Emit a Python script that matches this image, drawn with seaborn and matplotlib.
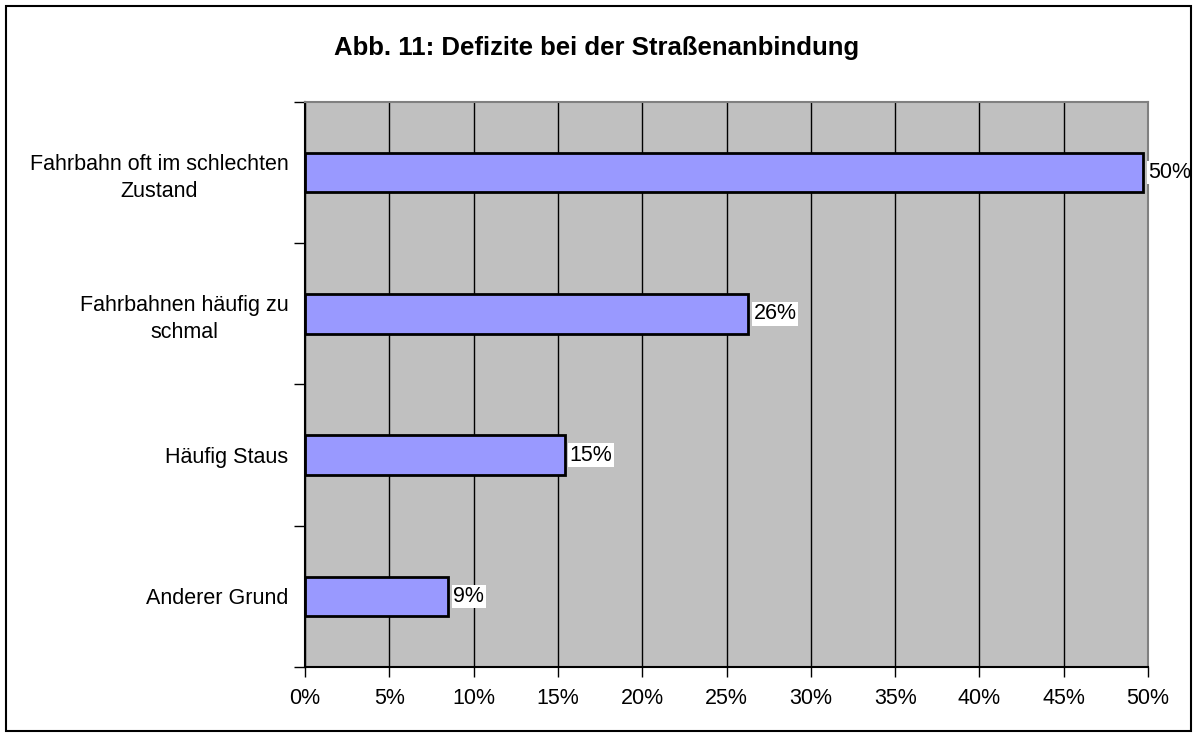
import matplotlib
matplotlib.use("Agg")
from matplotlib import pyplot as plt
from matplotlib.patches import Rectangle
from matplotlib.ticker import MultipleLocator, FuncFormatter
import seaborn as sns
import pandas as pd

categories = ["Fahrbahn oft im schlechten\nZustand",
              "Fahrbahnen häufig zu\nschmal",
              "Häufig Staus",
              "Anderer Grund"]
values = [49.7, 26.3, 15.4, 8.5]
value_labels = ["50%", "26%", "15%", "9%"]
title = "Abb. 11: Defizite bei der Straßenanbindung"

df = pd.DataFrame({"grund": categories, "anteil": values})

sns.set_style("white")
plt.rcParams['font.family'] = ['Liberation Sans', 'DejaVu Sans']
plt.rcParams['text.color'] = 'black'
plt.rcParams['xtick.color'] = 'black'
plt.rcParams['ytick.color'] = 'black'
plt.rcParams['axes.labelcolor'] = 'black'

fig = plt.figure(figsize=(11.93, 7.33), dpi=100)
ax = fig.add_axes([0.2557, 0.09, 0.9623 - 0.2557, 0.861 - 0.09])
ax.set_facecolor("#C0C0C0")

sns.barplot(data=df, x="anteil", y="grund", orient="h", color="#9999FF",
            saturation=1, width=0.28, edgecolor="black", linewidth=2, ax=ax, zorder=3)

ax.set_xlim(0, 50)
ax.set_ylim(len(categories) - 0.5, -0.5)
ax.xaxis.set_major_locator(MultipleLocator(5))
ax.xaxis.set_major_formatter(FuncFormatter(lambda v, p: "%d%%" % v))
ax.grid(axis="x", color="black", linewidth=1, zorder=1)
ax.set_axisbelow(True)

# ticks between categories like in Excel
ax.set_yticks([i - 0.5 for i in range(len(categories) + 1)], minor=True)
ax.tick_params(axis="y", which="major", length=0, pad=12, labelsize=15.5)
ax.tick_params(axis="y", which="minor", left=True, length=8, width=1, direction="out", color="black")
ax.tick_params(axis="x", which="major", length=7, width=1, direction="out", color="black",
               labelsize=15.5, pad=8, bottom=True)
for lab in ax.get_yticklabels():
    lab.set_multialignment("center")
    lab.set_linespacing(1.35)

ax.set_xlabel("")
ax.set_ylabel("")

for s in ["top", "right"]:
    ax.spines[s].set_color("#808080")
    ax.spines[s].set_linewidth(1.5)
for s in ["left", "bottom"]:
    ax.spines[s].set_color("black")
    ax.spines[s].set_linewidth(1.5)

for i, (v, lbl) in enumerate(zip(values, value_labels)):
    ax.text(v + 0.3, i, lbl, va="center", ha="left", fontsize=15.5, zorder=5,
            bbox=dict(facecolor="white", edgecolor="none", pad=1))

fig.text(0.5, 0.934, title, ha="center", va="center", fontsize=18.5, fontweight="bold")

fig.patches.append(Rectangle((6 / 1193, 2 / 733), 1185 / 1193, 725 / 733,
                             transform=fig.transFigure, fill=False,
                             edgecolor="black", linewidth=1.5))

fig.savefig("out.png", dpi=100)
